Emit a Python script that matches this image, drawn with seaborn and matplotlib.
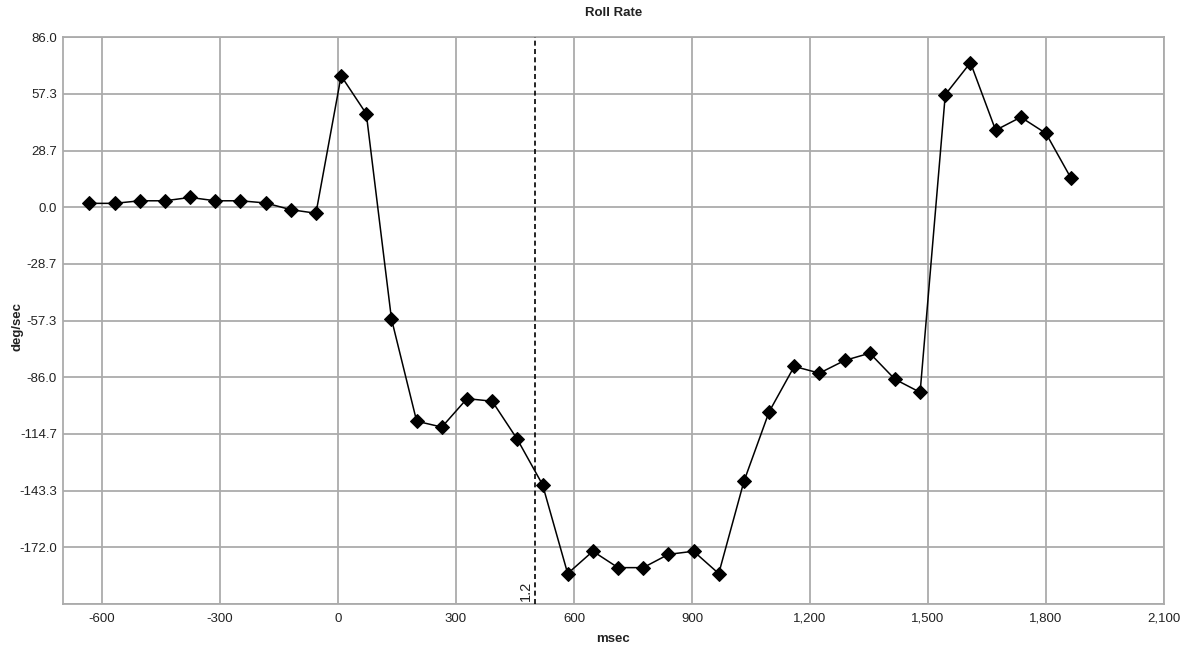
import matplotlib
matplotlib.use("Agg")
import matplotlib.pyplot as plt
import matplotlib.ticker as mticker
import seaborn as sns
import pandas as pd

# ---- data ----
time_ms = [-632, -568, -504, -440, -376, -312, -248, -184, -120, -56,
           8, 72, 136, 200, 264, 328, 392, 456, 520, 584,
           648, 712, 776, 840, 904, 968, 1032, 1096, 1160, 1224,
           1288, 1352, 1416, 1480, 1544, 1608, 1672, 1736, 1800, 1864]
roll_rate = [2.0, 2.0, 3.3, 3.3, 5.0, 3.3, 3.3, 2.2, -1.2, -3.0,
             66.5, 47.3, -56.5, -108.2, -111.2, -96.8, -98.1, -117.4, -140.3, -185.3,
             -174.0, -182.3, -182.3, -175.6, -174.0, -185.3, -138.7, -103.5, -80.5, -83.9,
             -77.5, -73.8, -87.0, -93.6, 57.0, 73.2, 39.0, 45.6, 37.4, 14.6]
y_ticks = [86.0, 57.333, 28.667, 0.0, -28.667, -57.333, -86.0, -114.667, -143.333, -172.0, -200.667]
y_tick_labels = ["86.0", "57.3", "28.7", "0.0", "-28.7", "-57.3", "-86.0", "-114.7", "-143.3", "-172.0", ""]
x_ticks = [-600, -300, 0, 300, 600, 900, 1200, 1500, 1800, 2100]
marker_time = 500
marker_label = "1.2"

df = pd.DataFrame({"msec": time_ms, "deg/sec": roll_rate})

sns.set_style("white")
plt.rcParams["font.family"] = ["Liberation Sans", "DejaVu Sans"]

fig = plt.figure(figsize=(11.98, 6.48), dpi=100)
ax = fig.add_axes([0.0523, 0.068, 0.9193, 0.8744])

sns.lineplot(data=df, x="msec", y="deg/sec", ax=ax, color="black",
             linewidth=1.1, marker="D", markersize=7.5,
             markeredgecolor="black", markerfacecolor="black")

ax.axvline(marker_time, color="black", linestyle=(0, (3, 2)), linewidth=1.2, zorder=3)
ax.text(marker_time - 4, -199, marker_label, rotation=90, ha="right", va="bottom",
        fontsize=10.5, color="#222222")

ax.set_xlim(-700, 2100)
ax.set_ylim(-200.667, 86.0)
ax.set_xticks(x_ticks)
ax.xaxis.set_major_formatter(mticker.FuncFormatter(lambda v, p: f"{int(v):,}"))
ax.set_yticks(y_ticks)
ax.set_yticklabels(y_tick_labels)

ax.grid(True, color="#ababab", linewidth=1.3)
ax.set_axisbelow(True)
for s in ax.spines.values():
    s.set_color("#ababab")
    s.set_linewidth(1.3)
ax.tick_params(axis="both", length=3, color="#ababab", labelsize=9.5, labelcolor="#222222")
ax.tick_params(axis="y", pad=1)

ax.set_xlabel("msec", fontsize=9.5, fontweight="bold", color="#222222", labelpad=6)
ax.set_ylabel("deg/sec", fontsize=9.5, fontweight="bold", color="#222222")
ax.yaxis.set_label_coords(-0.036, 0.49)
ax.set_title("Roll Rate", fontsize=9.5, fontweight="bold", color="#222222", pad=15)

fig.savefig("out.png", dpi=100)
